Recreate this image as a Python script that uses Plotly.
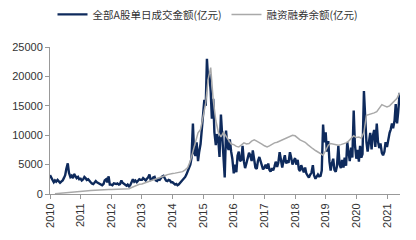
import pandas as pd
import plotly.graph_objects as go

# 全部A股单日成交金额 (亿元), semi-monthly readings from Jan 2010 to Jun 2021
turnover = [
    # 2010
    3200, 2800, 2400, 2000, 2300, 2100, 2400, 2200, 1900, 2100, 2300, 2700,
    3200, 4300, 5200, 3600, 2900, 3100, 2700, 3400, 3000, 2700, 2900, 2500,
    # 2011
    2600, 2300, 2500, 2900, 2700, 2400, 2500, 2200, 2000, 1800, 1700, 1900,
    2200, 2000, 1900, 1700, 1600, 1500, 1700, 2300, 2500, 2000, 3000, 1600,
    # 2012
    1600, 1500, 1800, 1700, 1700, 1800, 1600, 1700, 2300, 1900, 1700, 1500,
    1400, 1600, 1300, 1500, 2200, 2500, 2100, 2300, 2000, 2200, 2500, 2400,
    # 2013
    2400, 2700, 2500, 2300, 2600, 2800, 3300, 2400, 2500, 2800, 2900, 2300,
    2200, 2500, 2400, 2700, 3000, 3100, 2600, 2300, 2200, 2400, 2300, 2000,
    # 2014
    2000, 1800, 1600, 1700, 1500, 1600, 1900, 2100, 2300, 2600, 2900, 3300,
    3900, 4300, 5000, 6100, 12000, 7000, 6500, 8800, 5600, 7200, 8500, 10800,
    # 2015
    13500, 16000, 15000, 23000, 19500, 20500, 17500, 12800, 16200, 10500, 8300, 10200,
    9200, 6300, 13500, 9500, 6500, 2800, 10800, 8200, 7500, 9300, 7200, 6000,
    # 2016
    3500, 5000, 3700, 6500, 7200, 5600, 5800, 8200, 5500, 4400, 5300, 6000,
    7000, 6600, 5600, 7400, 6000, 4500, 4300, 5600, 6300, 5500, 4800, 4200,
    # 2017
    4500, 5000, 4300, 5200, 4100, 3800, 4400, 4000, 4700, 5500, 4600, 5300,
    7100, 5800, 4500, 5600, 6600, 5200, 5700, 5300, 7100, 6200, 5000, 5600,
    # 2018
    6100, 5000, 5800, 4200, 3900, 4900, 4200, 3700, 4500, 3500, 3100, 2800,
    3300, 3600, 4900, 3200, 2600, 2900, 3300, 3000, 3100, 4000, 11800, 8800,
    # 2019
    10500, 7200, 9000, 5500, 4000, 5200, 6000, 4100, 3800, 4700, 8200, 5000,
    4400, 5800, 4500, 6200, 4800, 8800, 6500, 5600, 7900, 6200, 14200, 8500,
    # 2020
    6000, 7500, 5500, 8200, 6200, 6800, 17500, 12500, 8800, 7200, 9400, 10400,
    7600, 9800, 10900, 8000, 12000, 9000, 7800, 8600, 7000, 6600, 7200, 8800,
    # 2021
    8000, 9500, 10400, 11000, 12000, 11200, 12500, 15300, 12000, 14000, 17200,
]
turnover_dates = pd.date_range("2010-01-01", periods=len(turnover), freq="SMS")

# 融资融券余额 (亿元), monthly readings from Mar 2010 to Jun 2021
margin = [
    # 2010 (Mar-Dec)
    50, 80, 120, 160, 200, 240, 280, 320, 380, 420,
    # 2011
    450, 480, 520, 560, 600, 640, 660, 680, 700, 720, 760, 780,
    # 2012
    780, 800, 820, 830, 850, 870, 880, 900, 1100, 1300, 1500, 1650,
    # 2013
    1700, 1850, 2000, 2100, 2250, 2400, 2550, 2700, 2900, 3100, 3300, 3450,
    # 2014
    3500, 3550, 3600, 3650, 3800, 4100, 4500, 5600, 7100, 8800, 10400, 11000,
    # 2015
    13000, 15500, 19500, 21500, 16000, 12500, 10500, 9700, 10500, 9800, 9000, 8500,
    # 2016
    8400, 8100, 8000, 8300, 8700, 8500, 8600, 9000, 9200, 9000, 8800, 8500,
    # 2017
    8200, 8000, 8200, 8500, 8700, 8800, 9000, 9300, 9500, 9700, 9900, 10000,
    # 2018
    9900, 9500, 9200, 9000, 8800, 8400, 8000, 7700, 7400, 7100, 6800, 6600,
    # 2019
    7400, 8300, 8600, 8500, 8300, 8300, 8400, 8500, 8700, 9000, 9500, 9900,
    # 2020
    9600, 9700, 9500, 10500, 13400, 13500, 13700, 13800, 14000, 14500, 15200, 15000,
    # 2021 (Jan-Jun)
    14800, 15000, 15400, 15800, 16300, 17200,
]
margin_dates = pd.date_range("2010-03-01", periods=len(margin), freq="MS")

years = list(range(2010, 2022))
year_ticks = [f"{y}-01-01" for y in years]
year_labels = [str(y) for y in years]
y_ticks = [0, 5000, 10000, 15000, 20000, 25000]

fig = go.Figure()
fig.add_trace(go.Scatter(
    x=turnover_dates, y=turnover, mode="lines",
    name="全部A股单日成交金额(亿元)",
    line=dict(color="#0e2a5c", width=2.4),
))
fig.add_trace(go.Scatter(
    x=margin_dates, y=margin, mode="lines",
    name="融资融券余额(亿元)",
    line=dict(color="#a9a9a9", width=1.5),
))

fig.update_layout(
    width=416, height=240,
    margin=dict(l=50, r=16, t=40, b=46),
    paper_bgcolor="white", plot_bgcolor="white",
    font=dict(family="Liberation Sans, Arial, sans-serif", size=11, color="#333333"),
    showlegend=True,
    legend=dict(
        orientation="h", xref="container", x=0.5, xanchor="center",
        yref="container", y=0.94, yanchor="middle",
        font=dict(family="Noto Sans CJK SC", size=10.5, color="#333333"),
        itemwidth=30, tracegroupgap=0,
        bgcolor="rgba(0,0,0,0)",
    ),
    xaxis=dict(
        range=["2010-01-01", "2021-06-05"],
        tickmode="array", tickvals=year_ticks, ticktext=year_labels,
        tickangle=-90, ticks="outside", ticklen=4, tickcolor="#999999",
        showline=True, linecolor="#999999", linewidth=1,
        showgrid=False, zeroline=False,
        tickfont=dict(size=11, color="#333333"),
    ),
    yaxis=dict(
        range=[0, 25000],
        tickmode="array", tickvals=y_ticks, ticktext=[str(v) for v in y_ticks],
        ticks="outside", ticklen=4, tickcolor="#999999",
        showline=True, linecolor="#999999", linewidth=1,
        showgrid=False, zeroline=False,
        tickfont=dict(size=11, color="#333333"),
    ),
)

fig.write_html("out.html")
